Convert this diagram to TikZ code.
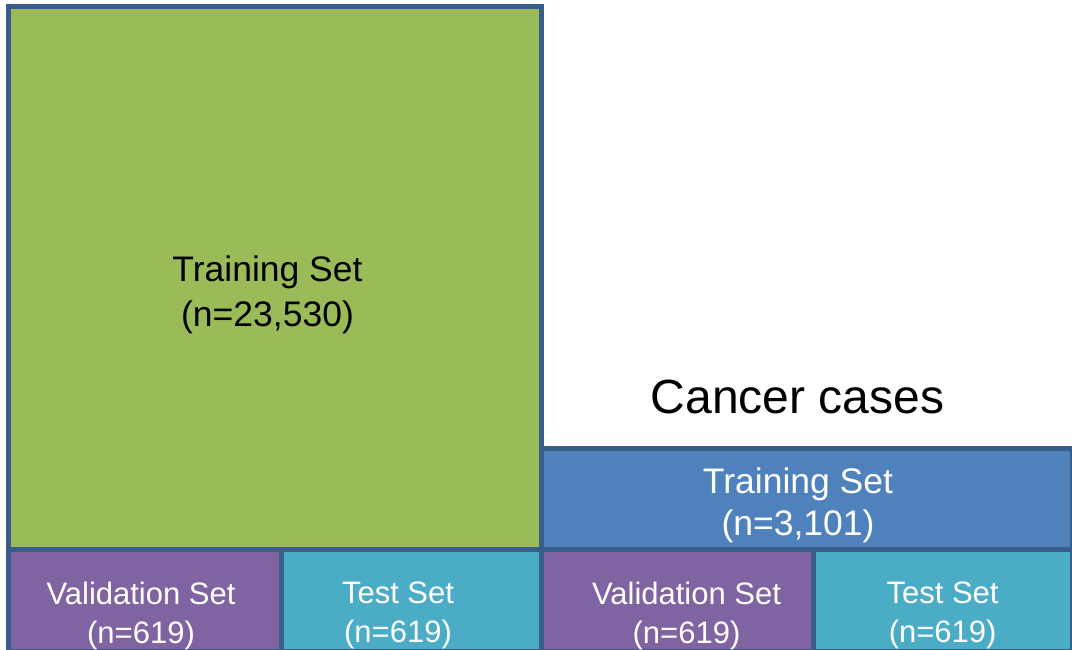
\documentclass[tikz,border=0pt]{standalone}
\usepackage{fontspec}
\setmainfont{Liberation Sans}
\definecolor{trainGreen}{HTML}{9BBB59}
\definecolor{trainBlue}{HTML}{4F81BD}
\definecolor{valPurple}{HTML}{8064A2}
\definecolor{testTeal}{HTML}{4BACC6}
\definecolor{edgeBlue}{HTML}{385D8A}
\tikzset{
  block/.style={draw=edgeBlue, line width=5pt, inner sep=0pt, outer sep=0pt},
  bigtext/.style={align=center, inner sep=0pt, font=\fontsize{35.5}{45}\selectfont},
  smalltext/.style={align=center, inner sep=0pt, text=white, font=\fontsize{31}{39}\selectfont},
}
\begin{document}
\begin{tikzpicture}[x=1pt, y=-1pt]
  \useasboundingbox (0,0) rectangle (1072,650);
  \clip (0,0) rectangle (1072,650);
  \fill[white] (0,0) rectangle (1072,650);

  % left column: all cases
  \node[block, fill=trainGreen, minimum width=533pt, minimum height=543pt]
    (trainAll) at (275,278) {};
  \node[block, fill=valPurple, minimum width=272.5pt, minimum height=101.5pt]
    (valAll) at (144.75,600.25) {};
  \node[block, fill=testTeal, minimum width=260.5pt, minimum height=101.5pt]
    (testAll) at (411.25,600.25) {};

  % right column: cancer cases
  \node[block, fill=trainBlue, minimum width=531pt, minimum height=101.5pt]
    (trainCancer) at (807,498.75) {};
  \node[block, fill=valPurple, minimum width=271.5pt, minimum height=101.5pt]
    (valCancer) at (677.25,600.25) {};
  \node[block, fill=testTeal, minimum width=259.5pt, minimum height=101.5pt]
    (testCancer) at (942.75,600.25) {};

  % labels
  \node[bigtext] (trainAllText) at (267.5,295) {Training Set\\(n=23,530)};
  \node[bigtext, text=white, font=\fontsize{35.5}{42}\selectfont]
    (trainCancerText) at (798,505) {Training Set\\(n=3,101)};
  \node[anchor=base, inner sep=0pt, font=\fontsize{48}{56}\selectfont]
    (cancerTitle) at (797.5,413.5) {Cancer cases};
  \node[smalltext] (valAllText) at (141,615.5) {Validation Set\\(n=619)};
  \node[smalltext] (testAllText) at (398,615.5) {Test Set\\(n=619)};
  \node[smalltext] (valCancerText) at (686.5,615.5) {Validation Set\\(n=619)};
  \node[smalltext] (testCancerText) at (942.6,615.5) {Test Set\\(n=619)};
\end{tikzpicture}
\end{document}
